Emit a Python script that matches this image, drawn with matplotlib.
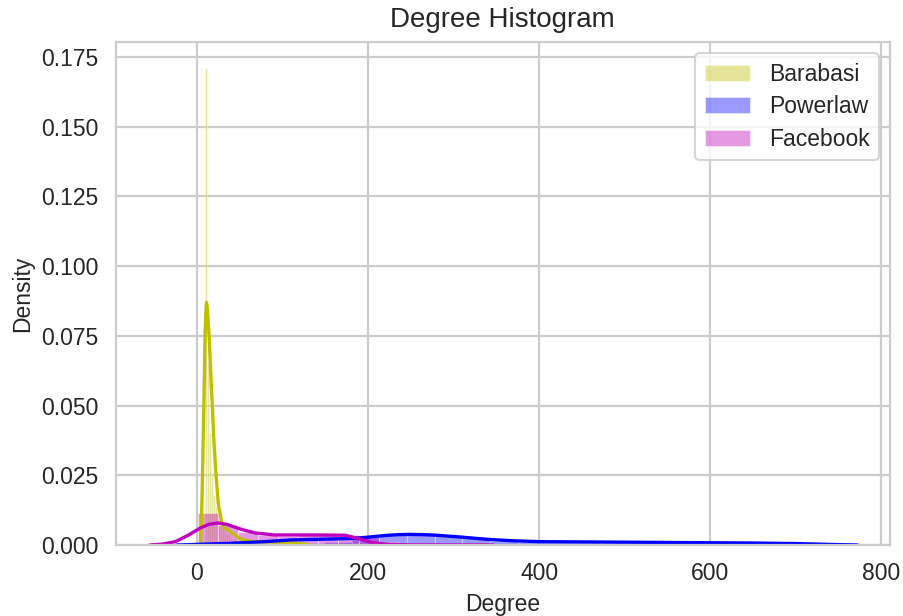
import matplotlib
matplotlib.use("Agg")
import matplotlib.pyplot as plt
import seaborn as sns

# ---- histogram bins (density) ----
barabasi_edges = [9.2, 11.5, 13.8, 16.1, 18.4, 20.7, 23.0, 25.3, 27.6, 29.9,
                  32.2, 34.5, 36.8, 39.1, 41.4, 43.7, 46.0]
barabasi_heights = [0.171, 0.065, 0.040, 0.025, 0.018, 0.014, 0.012, 0.011,
                    0.009, 0.006, 0.005, 0.004, 0.004, 0.003, 0.002, 0.002]

powerlaw_edges = [52, 84, 117, 149, 181, 213, 246, 278, 310, 343, 375, 407,
                  440, 472, 504, 536, 569, 601, 633, 665, 697]
powerlaw_heights = [0.0003, 0.0005, 0.0008, 0.0010, 0.0027, 0.0037, 0.0039,
                    0.0035, 0.0028, 0.0013, 0.0011, 0.0010, 0.0010, 0.0009,
                    0.0009, 0.0008, 0.0008, 0.0007, 0.0006, 0.0004]

facebook_edges = [1, 24.5, 48, 71.5, 95, 118.5, 142, 165.5, 189, 212.5, 236,
                  259.5, 283, 306.5]
facebook_heights = [0.0115, 0.0070, 0.0045, 0.0035, 0.0033, 0.0036, 0.0035,
                    0.0034, 0.0030, 0.0012, 0.0006, 0.0003, 0.0002]

# ---- kernel density curves ----
barabasi_kde_x = [4.1, 5.5, 6.7, 8.2, 9.6, 10.6, 11.3, 12.2, 13.2, 14.4, 16.2,
                  18.1, 20.0, 22.2, 25.0, 28.9, 32.0, 36.3, 40.0, 44.4, 49.0,
                  53.8, 65, 80, 100, 115, 125, 132]
barabasi_kde_y = [0.0, 0.010, 0.026, 0.050, 0.075, 0.084, 0.087, 0.085, 0.081,
                  0.075, 0.062, 0.050, 0.037, 0.026, 0.015, 0.0084, 0.0060,
                  0.0054, 0.0045, 0.0036, 0.0025, 0.0018, 0.0012, 0.0011,
                  0.0010, 0.0007, 0.0003, 0.0]

powerlaw_kde_x = [-23, 0, 40, 80, 110, 150, 180, 200, 220, 235, 248, 265, 280,
                  310, 340, 370, 400, 450, 500, 550, 600, 650, 700, 740, 772]
powerlaw_kde_y = [0.0, 0.0002, 0.0006, 0.0012, 0.0018, 0.0021, 0.0023, 0.0028,
                  0.0034, 0.0037, 0.0038, 0.0037, 0.0035, 0.0028, 0.0020,
                  0.0015, 0.0012, 0.0011, 0.0010, 0.0009, 0.0008, 0.0007,
                  0.0005, 0.0002, 0.0]

facebook_kde_x = [-55, -40, -25, -10, 3.5, 14, 24.6, 35, 50, 68, 91, 130, 173,
                  190, 205, 225, 250, 300, 346]
facebook_kde_y = [0.0, 0.0003, 0.0012, 0.0035, 0.0060, 0.0074, 0.0079, 0.0074,
                  0.0058, 0.0043, 0.0036, 0.0036, 0.0035, 0.0022, 0.0008,
                  0.0002, 0.00005, 0.00001, 0.0]

# plain matplotlib single-letter colours: y, b, m
YELLOW = (0.75, 0.75, 0.0)
BLUE = (0.0, 0.0, 1.0)
MAGENTA = (0.75, 0.0, 0.75)

series = [
    ("Barabasi", YELLOW, barabasi_edges, barabasi_heights, barabasi_kde_x, barabasi_kde_y),
    ("Powerlaw", BLUE, powerlaw_edges, powerlaw_heights, powerlaw_kde_x, powerlaw_kde_y),
    ("Facebook", MAGENTA, facebook_edges, facebook_heights, facebook_kde_x, facebook_kde_y),
]

sns.set_theme(style="whitegrid", context="talk", color_codes=False)
plt.rcParams["font.family"] = ["Liberation Sans", "DejaVu Sans"]

fig = plt.figure(figsize=(9.04, 6.16), dpi=100)
ax = fig.add_axes([0.1278, 0.1153, 0.8567, 0.8165])

for name, color, edges, heights, kx, ky in series:
    lefts = edges[:-1]
    widths = [b - a for a, b in zip(edges[:-1], edges[1:])]
    ax.bar(lefts, heights, width=widths, align="edge", color=color, alpha=0.4,
           edgecolor="white", linewidth=0.8, label=name)
    ax.plot(kx, ky, color=color, linewidth=2.4, solid_joinstyle="round")

ax.set_ylim(0, 0.1804)
ax.set_xlim(-95, 810)
ax.set_xticks([0, 200, 400, 600, 800])
ax.set_yticks([0.0, 0.025, 0.05, 0.075, 0.1, 0.125, 0.15, 0.175])
ax.yaxis.set_major_formatter(matplotlib.ticker.FormatStrFormatter("%.3f"))
ax.tick_params(axis="both", labelsize=16.5, length=0, pad=12, colors="#262626")

for s in ax.spines.values():
    s.set_color("#cccccc")
    s.set_linewidth(1.6)
ax.grid(True, color="#cccccc", linewidth=1.6)

ax.set_title("Degree Histogram", fontsize=20, color="#262626", pad=11)
ax.set_xlabel("Degree", fontsize=16.5, color="#262626", labelpad=6)
ax.set_ylabel("Density", fontsize=16.5, color="#262626", labelpad=5)

leg = ax.legend(loc="upper right", fontsize=16.5, handlelength=2.0,
                handleheight=0.7, handletextpad=0.8, labelspacing=0.42,
                borderaxespad=0.5, frameon=True)
leg.get_frame().set_edgecolor("#cccccc")
for t in leg.get_texts():
    t.set_color("#262626")

fig.savefig("out.png", dpi=100)
